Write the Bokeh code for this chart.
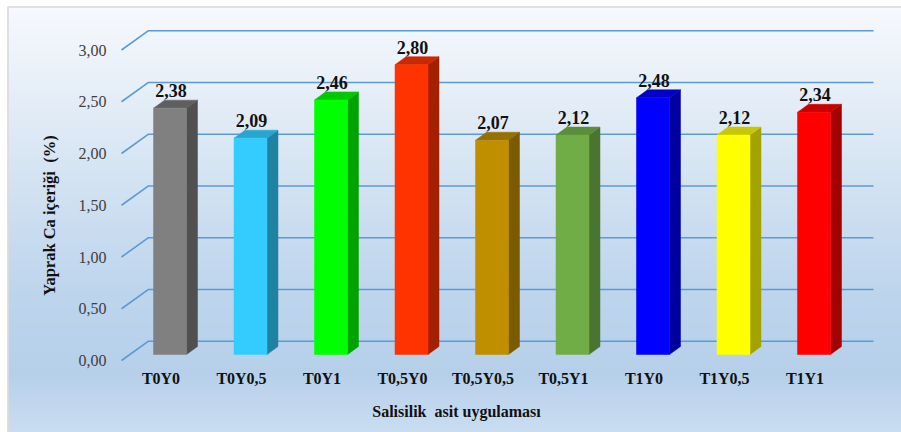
import numpy as np
from bokeh.plotting import figure
from bokeh.models import Range1d
from bokeh.core.properties import value
from bokeh.embed import file_html
from bokeh.resources import INLINE

# ---- data -------------------------------------------------------------
categories = ["T0Y0", "T0Y0,5", "T0Y1", "T0,5Y0", "T0,5Y0,5",
              "T0,5Y1", "T1Y0", "T1Y0,5", "T1Y1"]
ca_values = [2.38, 2.09, 2.46, 2.80, 2.07, 2.12, 2.48, 2.12, 2.34]
value_labels = ["2,38", "2,09", "2,46", "2,80", "2,07", "2,12", "2,48", "2,12", "2,34"]
y_ticks = [0.0, 0.5, 1.0, 1.5, 2.0, 2.5, 3.0]
y_tick_labels = ["0,00", "0,50", "1,00", "1,50", "2,00", "2,50", "3,00"]

front_colors = ["#808080", "#33CCFF", "#00FF00", "#FF3300", "#BF8F00",
                "#70AD47", "#0000FF", "#FFFF00", "#FF0000"]
side_colors = ["#505050", "#1F82A3", "#00A300", "#A32000", "#7A5B00",
               "#4A7530", "#0000A0", "#A3A300", "#A30000"]
top_colors = ["#5F5F5F", "#27A6CF", "#00C800", "#CC2800", "#967000",
              "#5B8E39", "#0000C8", "#C8C800", "#C80000"]

# ---- canvas geometry (pixels) -------------------------------------------
W, H = 901, 432
X0_PX, SLOT_PX = 169.5, 80.5     # centre of first bar, distance between bars
Y0_PX, UNIT_PX = 360.0, 103.5    # zero line on the front edge, pixels per 1 %


def sx(px):
    return (px - X0_PX) / SLOT_PX


def sy(py):
    return (Y0_PX - py) / UNIT_PX


def dxp(px):
    return px / SLOT_PX


def dyp(px):
    return px / UNIT_PX


p = figure(width=W, height=H, output_backend="svg", toolbar_location=None,
           x_range=Range1d(sx(0), sx(W)), y_range=Range1d(sy(H), sy(0)),
           x_axis_location=None, y_axis_location=None, min_border=0)
p.grid.visible = False
p.outline_line_color = None
p.background_fill_color = "white"
p.border_fill_color = "white"

# ---- panel with vertical gradient ----------------------------------------
stops = [(7, (246, 249, 253)), (100, (228, 237, 247)), (200, (207, 224, 241)),
         (300, (188, 212, 236)), (375, (183, 208, 234)), (432, (202, 221, 241))]
rows = np.arange(H, 6, -1)  # bottom row first
sp = np.array([s[0] for s in stops], float)
rgba = np.zeros((len(rows), 1, 4), dtype=np.uint8)
for c in range(3):
    rgba[:, 0, c] = np.interp(rows, sp, [s[1][c] for s in stops]).round()
rgba[:, 0, 3] = 255
img = rgba.view(np.uint32).reshape(len(rows), 1)
p.image_rgba(image=[img], x=sx(8), y=sy(H), dw=sx(W) - sx(8), dh=sy(7) - sy(H))
p.quad(left=sx(7.5), right=sx(W + 5), bottom=sy(H + 5), top=sy(6.5),
       fill_color=None, line_color="#D6D6D6", line_width=1.5)

# ---- 3D grid: diagonal on the side wall, horizontal on the back wall ------
back_dx, back_dy = dxp(27), dyp(19.3)
gx0, gx_back, gx_end = sx(121), sx(148), sx(873)
grid_xs = [[gx0, gx_back, gx_end] for _ in y_ticks]
grid_ys = [[t, t + back_dy, t + back_dy] for t in y_ticks]
p.multi_line(xs=grid_xs, ys=grid_ys, line_color="#5B9BD5", line_width=1.6)

p.text(x=[sx(106)] * len(y_ticks), y=y_ticks, text=y_tick_labels,
       text_align="right", text_baseline="middle",
       text_font=value("Liberation Serif"), text_font_size="16px",
       text_color="#404040")

# ---- 3D bars ----------------------------------------------------------
hw = dxp(33) / 2
bar_dx, bar_dy = dxp(11), dyp(8)
base = sy(354)
idx = np.arange(len(ca_values))
left = idx - hw
right = idx + hw
tops = [base + v for v in ca_values]

side_xs = [[r, r + bar_dx, r + bar_dx, r] for r in right]
side_ys = [[base, base + bar_dy, t + bar_dy, t] for t in tops]
top_xs = [[l, r, r + bar_dx, l + bar_dx] for l, r in zip(left, right)]
top_ys = [[t, t, t + bar_dy, t + bar_dy] for t in tops]

p.patches(xs=side_xs, ys=side_ys, fill_color=side_colors, line_color=side_colors,
          line_width=0.5)
p.patches(xs=top_xs, ys=top_ys, fill_color=top_colors, line_color=top_colors,
          line_width=0.5)
p.quad(left=left, right=right, bottom=[base] * len(tops), top=tops,
       fill_color=front_colors, line_color=front_colors, line_width=0.5)

# value labels above each bar
p.text(x=idx + dxp(1), y=[t + bar_dy + dyp(3) for t in tops], text=value_labels,
       text_align="center", text_baseline="bottom",
       text_font=value("Liberation Serif"), text_font_style="bold",
       text_font_size="18px", text_color="#111111")

# category labels along the floor
p.text(x=idx - dxp(9), y=[sy(378)] * len(categories), text=categories,
       text_align="center", text_baseline="middle",
       text_font=value("Liberation Serif"), text_font_style="bold",
       text_font_size="16px", text_color="#111111")

# axis titles (non-breaking space keeps the double gap in SVG text)
p.text(x=[sx(456)], y=[sy(411)], text=["Salisilik\u00a0 asit uygulaması"],
       text_align="center", text_baseline="middle",
       text_font=value("Liberation Serif"), text_font_style="bold",
       text_font_size="16px", text_color="#111111")
p.text(x=[sx(49)], y=[sy(215)], text=["Yaprak Ca içeriği\u00a0 (%)"], angle=np.pi / 2,
       text_align="center", text_baseline="middle",
       text_font=value("Liberation Serif"), text_font_style="bold",
       text_font_size="16.5px", text_color="#111111")

open("out.html", "w").write(file_html(p, INLINE))
